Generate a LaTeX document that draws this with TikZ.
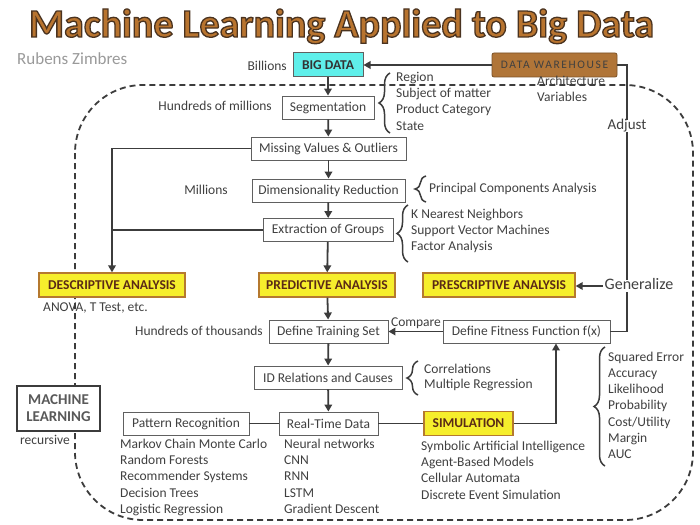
\documentclass[tikz,border=0pt]{standalone}
\usepackage{fontspec}
\setmainfont{Carlito}
\newfontfamily\dwfont{Carlito}[LetterSpace=14.0]
\usetikzlibrary{arrows.meta,decorations.pathreplacing,calc}
\definecolor{txt}{HTML}{404040}
\definecolor{boxc}{HTML}{606060}
\definecolor{linec}{HTML}{3C3C3C}
\definecolor{yelf}{HTML}{F6EE2C}
\definecolor{yelb}{HTML}{B5792F}
\definecolor{yelt}{HTML}{5A2A16}
\definecolor{cyanf}{HTML}{5FEFEA}
\definecolor{dwf}{HTML}{B07538}
\definecolor{titf}{HTML}{B8742F}
\definecolor{tito}{HTML}{4A3320}
\definecolor{grayt}{HTML}{9A9A9A}
\newcommand\myfs{\fontsize{13.5}{16}\selectfont}
\begin{document}
\begin{tikzpicture}[x=1pt,y=-1pt,
  every node/.style={text=txt, font=\myfs},
  box/.style={draw=boxc, line width=0.9pt, fill=white, minimum height=23pt, inner sep=0pt},
  hl/.style={draw=yelb, line width=1.3pt, fill=yelf, minimum height=24pt, inner sep=0pt, font=\myfs\bfseries, text=yelt},
  conn/.style={draw=linec, line width=1.8pt},
  arr/.style={conn, -{Triangle[length=7pt,width=7.5pt]}},
  brc/.style={draw=linec, line width=1.5pt, decorate, decoration={brace, amplitude=11pt}},
  item/.style={anchor=west, inner sep=0pt, text height=9.5pt, text depth=3pt},
  lab/.style={inner sep=0pt, text height=9.5pt, text depth=3pt},
  ttl/.style={anchor=base, inner sep=0pt, font=\fontsize{40}{44}\selectfont\bfseries},
]
\fill[white] (0,0) rectangle (700,524);
\useasboundingbox (0,0) rectangle (700,524);

% title
\node[ttl, text=titf] (title) at (341.5,37) {\special{pdf:literal direct 2 Tr 1.3 w 0.29 0.2 0.125 RG}Machine Learning Applied to Big Data\special{pdf:literal direct 0 Tr}};
\node[lab, anchor=west, text=grayt, font=\fontsize{17}{19}\selectfont] (author) at (17,61) {Rubens Zimbres};

% dashed frame
\draw[linec, line width=1.8pt, dash pattern=on 6pt off 4pt, rounded corners=68pt] (75,85) rectangle (693,520);

% top boxes
\node[draw=boxc, line width=1pt, fill=cyanf, minimum width=70pt, minimum height=24pt, inner sep=0pt, font=\myfs\bfseries, text=black!80] (big) at (328,65) {BIG DATA};
\node[lab, anchor=east] (billions) at (287,67) {Billions};
\node[draw=dwf!70!black, line width=0.8pt, fill=dwf, rounded corners=2pt, minimum width=125pt, minimum height=24pt, inner sep=0pt, font=\fontsize{11.5}{13}\dwfont, text=black!75] (dw) at (554.5,65) {DATA WAREHOUSE};
\node[lab, anchor=west] (arch) at (537,82) {Architecture};
\node[lab, anchor=west] (vars) at (537,98) {Variables};

\node[box, minimum width=92pt] (seg) at (328,107.5) {Segmentation};
\node[lab, anchor=east] (hm) at (272,107) {Hundreds of millions};
\node[box, minimum width=155pt] (miss) at (328.5,148.5) {Missing Values \& Outliers};
\node[box, minimum width=153pt] (dim) at (328.5,190.5) {Dimensionality Reduction};
\node[lab] (mil) at (206,191) {Millions};
\node[box, minimum width=130pt] (ext) at (328,230) {Extraction of Groups};

% analysis boxes
\node[hl, minimum width=146pt] (desc) at (112,285) {DESCRIPTIVE ANALYSIS};
\node[lab, anchor=west] (anova) at (43,308) {ANOVA, T Test, etc.};
\node[hl, minimum width=136pt] (pred) at (327,285) {PREDICTIVE ANALYSIS};
\node[hl, minimum width=152pt] (pres) at (499,285) {PRESCRIPTIVE ANALYSIS};

\node[box, minimum width=119pt] (train) at (328.5,331.5) {Define Training Set};
\node[lab, anchor=east] (ht) at (263,332) {Hundreds of thousands};
\node[box, minimum width=167pt] (fit) at (526.5,331.5) {Define Fitness Function f(x)};
\node[lab] (cmp) at (416,323) {Compare};
\node[box, minimum width=148pt] (idr) at (328,377.5) {ID Relations and Causes};
\node[box, minimum width=99pt] (rtd) at (328.5,423.5) {Real-Time Data};
\node[box, minimum width=126pt] (pat) at (186,423.5) {Pattern Recognition};
\node[hl, minimum width=89pt] (sim) at (468.5,423.5) {SIMULATION};

\node[draw=linec, line width=2pt, fill=white, minimum width=83pt, minimum height=45pt, inner sep=0pt, align=center, font=\fontsize{15}{17}\selectfont\bfseries, text=black!65] (ml) at (58.5,408) {MACHINE\\LEARNING};
\node[lab] (rec) at (45,441) {recursive};

% connectors
\draw[arr] (dw.west) -- (big.east);
\coordinate (c1) at (627,65);
\coordinate (c2) at (627,331.5);
\draw[conn] (dw.east) -- (c1) -- (c2) -- (fit.east);
\node[lab, fill=white, inner xsep=1pt, font=\fontsize{15}{17}\selectfont] (adj) at (627,126) {Adjust};
\node[lab, fill=white, inner xsep=2pt, font=\fontsize{16}{18}\selectfont] (gen) at (639,286) {Generalize};
\draw[arr] (gen.west) -- (gen.west -| pres.east);

\draw[arr] (big) -- (seg);
\draw[arr] (seg) -- (miss);
\draw[arr] (miss) -- (dim);
\draw[arr] (dim) -- (ext);
\draw[arr] (ext) -- (pred);
\draw[arr] (pred) -- (train);
\draw[arr] (train) -- (idr);
\draw[arr] (idr) -- (rtd);
\draw[arr] (fit.west) -- (train.east);
\draw[arr] (miss.west) -| (desc.north);
\draw[conn] (ext.west) -- (ext.west -| desc.north);
\draw[conn] (rtd.west) -- (pat.east);
\draw[conn] (rtd.east) -- (sim.west);
\coordinate (c3) at (556,423.5);
\draw[arr] (sim.east) -- (c3) -- (c3 |- fit.south);

% braces and lists
\draw[brc] (390,133) -- (390,73);
\foreach \t [count=\i] in {Region,Subject of matter,Product Category,State}
  \node[item] (sg\i) at (396,{78+16.3*(\i-1)}) {\t};
\draw[brc] (426,202) -- (426,176);
\node[item] (pca) at (429,189) {Principal Components Analysis};
\draw[brc] (408,262) -- (408,205);
\foreach \t [count=\i] in {K Nearest Neighbors,Support Vector Machines,Factor Analysis}
  \node[item] (eg\i) at (411,{215+16.3*(\i-1)}) {\t};
\draw[brc] (418,395) -- (418,361);
\foreach \t [count=\i] in {Correlations,Multiple Regression}
  \node[item] (cr\i) at (424,{370+15.5*(\i-1)}) {\t};
\draw[brc] (605,466) -- (605,347);
\foreach \t [count=\i] in {Squared Error,Accuracy,Likelihood,Probability,Cost/Utility,Margin,AUC}
  \node[item] (mt\i) at (608,{358+16.2*(\i-1)}) {\t};
\foreach \t [count=\i] in {Markov Chain Monte Carlo,Random Forests,Recommender Systems,Decision Trees,Logistic Regression}
  \node[item] (pr\i) at (120,{445+16.3*(\i-1)}) {\t};
\foreach \t [count=\i] in {Neural networks,CNN,RNN,LSTM,Gradient Descent}
  \node[item] (nn\i) at (284,{445+16.3*(\i-1)}) {\t};
\foreach \t [count=\i] in {Symbolic Artificial Intelligence,Agent-Based Models,Cellular Automata,Discrete Event Simulation}
  \node[item] (sm\i) at (421,{447+16.3*(\i-1)}) {\t};
\end{tikzpicture}
\end{document}
